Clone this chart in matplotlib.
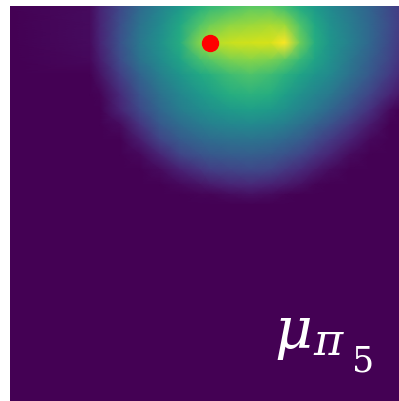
import numpy as np
import matplotlib
matplotlib.use("Agg")
import matplotlib.pyplot as plt

plt.rcParams["mathtext.fontset"] = "dejavuserif"

# Sample positions (pixel-like data units) of the density
col_x = [10, 90, 100, 120, 140, 160, 180, 200, 210, 230, 250, 270, 285, 300, 315, 330, 350, 370, 390, 399]
row_y = [6, 10, 25, 43, 60, 75, 95, 110, 125, 140, 155, 170, 185, 195, 205, 401]

# Density values (0..1) at each (row, column) sample
density = [
    [0, 0.02, 0.09, 0.21, 0.33, 0.43, 0.53, 0.63, 0.67, 0.71, 0.74, 0.74, 0.70, 0.61, 0.54, 0.47, 0.39, 0.31, 0.21, 0.17],
    [0, 0.03, 0.10, 0.22, 0.35, 0.45, 0.55, 0.65, 0.69, 0.73, 0.77, 0.77, 0.72, 0.63, 0.55, 0.48, 0.40, 0.32, 0.22, 0.18],
    [0, 0.03, 0.10, 0.24, 0.38, 0.48, 0.60, 0.73, 0.78, 0.83, 0.85, 0.87, 0.85, 0.72, 0.60, 0.50, 0.42, 0.33, 0.23, 0.18],
    [0, 0.03, 0.10, 0.25, 0.40, 0.50, 0.62, 0.82, 0.88, 0.92, 0.93, 0.94, 1.00, 0.78, 0.62, 0.52, 0.43, 0.33, 0.22, 0.17],
    [0, 0.02, 0.08, 0.23, 0.38, 0.48, 0.58, 0.70, 0.74, 0.80, 0.82, 0.80, 0.75, 0.67, 0.58, 0.50, 0.40, 0.30, 0.20, 0.15],
    [0, 0, 0.05, 0.18, 0.32, 0.43, 0.52, 0.60, 0.63, 0.69, 0.72, 0.69, 0.64, 0.58, 0.52, 0.47, 0.37, 0.27, 0.17, 0.12],
    [0, 0, 0.01, 0.12, 0.26, 0.37, 0.46, 0.53, 0.56, 0.62, 0.64, 0.62, 0.56, 0.50, 0.45, 0.40, 0.30, 0.20, 0.10, 0.06],
    [0, 0, 0, 0.10, 0.22, 0.33, 0.42, 0.48, 0.50, 0.54, 0.56, 0.54, 0.50, 0.45, 0.40, 0.33, 0.24, 0.14, 0.03, 0],
    [0, 0, 0, 0.03, 0.15, 0.27, 0.35, 0.41, 0.43, 0.46, 0.47, 0.45, 0.42, 0.37, 0.31, 0.25, 0.16, 0.07, 0, 0],
    [0, 0, 0, 0, 0.08, 0.20, 0.28, 0.33, 0.35, 0.37, 0.38, 0.36, 0.33, 0.29, 0.23, 0.17, 0.09, 0.02, 0, 0],
    [0, 0, 0, 0, 0.02, 0.10, 0.20, 0.25, 0.27, 0.29, 0.30, 0.28, 0.25, 0.21, 0.15, 0.10, 0.03, 0, 0, 0],
    [0, 0, 0, 0, 0, 0.03, 0.09, 0.15, 0.18, 0.20, 0.22, 0.20, 0.16, 0.12, 0.07, 0.03, 0, 0, 0, 0],
    [0, 0, 0, 0, 0, 0, 0.02, 0.05, 0.07, 0.10, 0.11, 0.09, 0.07, 0.04, 0.01, 0, 0, 0, 0, 0],
    [0, 0, 0, 0, 0, 0, 0, 0.01, 0.01, 0.03, 0.04, 0.03, 0.01, 0, 0, 0, 0, 0, 0, 0],
    [0] * 20,
    [0] * 20,
]

# Marked state (red dot)
state_x = [210]
state_y = [43]

# Label pieces: symbol, policy subscript, policy index
label_main = r"$\mu$"
label_sub = r"$\pi$"
label_idx = r"$5$"

fig = plt.figure(figsize=(3.99, 4.01), dpi=100)
ax = fig.add_axes([10 / 399, 0, 389 / 399, 395 / 401])

X, Y = np.meshgrid(col_x, row_y)
ax.pcolormesh(X, Y, np.array(density), shading="gouraud", cmap="viridis",
              vmin=0, vmax=1, rasterized=True)
ax.plot(state_x, state_y, "o", color="red", ms=11.5, zorder=3)

ax.text(274, 348, label_main, color="white", fontsize=42, ha="left", va="baseline")
ax.text(313, 355, label_sub, color="white", fontsize=32, ha="left", va="baseline")
ax.text(351, 372, label_idx, color="white", fontsize=25, ha="left", va="baseline")

ax.set_xlim(10, 399)
ax.set_ylim(401, 6)
ax.set_axis_off()

fig.savefig("out.png", dpi=100)
